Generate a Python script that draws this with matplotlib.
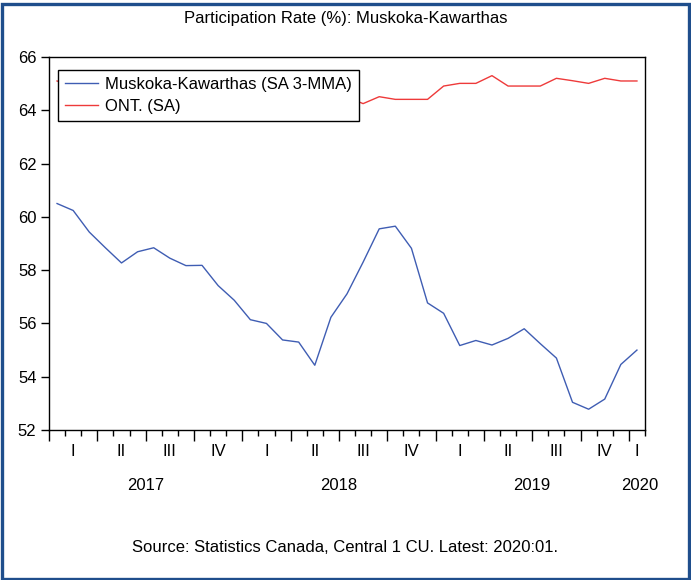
import matplotlib
matplotlib.use("Agg")
import matplotlib.pyplot as plt
from matplotlib.patches import Rectangle
from matplotlib.transforms import blended_transform_factory
import numpy as np

plt.rcParams['font.family'] = ['Liberation Sans', 'DejaVu Sans']

# Monthly data Jan 2017 .. Jan 2020
months = [f"{y}-{m:02d}" for y in (2017, 2018, 2019) for m in range(1, 13)] + ["2020-01"]

muskoka = [60.50, 60.24, 59.43, 58.84, 58.27, 58.69, 58.84, 58.45, 58.17, 58.18, 57.42, 56.87,
           56.14, 56.00, 55.38, 55.30, 54.43, 56.23, 57.11, 58.30, 59.55, 59.65, 58.82, 56.77,
           56.38, 55.17, 55.36, 55.19, 55.44, 55.80, 55.24, 54.70, 53.04, 52.78, 53.16, 54.46,
           55.00]

ontario = [65.10, 64.90, 64.80, 64.70, 64.60, 64.70, 64.60, 64.60, 64.70, 64.50, 64.70, 64.60,
           64.30, 64.40, 64.50, 64.40, 64.40, 64.50, 64.50, 64.25, 64.51, 64.41, 64.41, 64.41,
           64.91, 65.01, 65.01, 65.30, 64.91, 64.91, 64.91, 65.20, 65.11, 65.01, 65.20, 65.10,
           65.10]

quarter_labels = ["I", "II", "III", "IV"] * 3 + ["I"]
year_labels = ["2017", "2018", "2019", "2020"]

title = "Participation Rate (%): Muskoka-Kawarthas"
source = "Source: Statistics Canada, Central 1 CU. Latest: 2020:01."
series_names = ["Muskoka-Kawarthas (SA 3-MMA)", "ONT. (SA)"]

FS = 12
W, H = 691, 580
fig = plt.figure(figsize=(W / 100, H / 100), dpi=100)

# outer blue frame
fig.patches.append(Rectangle((1.5 / W, 1.5 / H), (W - 3.5) / W, (H - 5.5) / H,
                             transform=fig.transFigure, fill=False,
                             edgecolor='#1F4E8C', linewidth=2.4))

ax = fig.add_axes([49 / W, (H - 430) / H, (645 - 49) / W, (430 - 57) / H])

x = np.arange(len(months))
l1, = ax.plot(x, muskoka, color='#3F5DB3', linewidth=1.0)
l2, = ax.plot(x, ontario, color='#EE3A3A', linewidth=1.0)

ax.set_xlim(-0.5, len(months) - 0.5)
ax.set_ylim(52, 66)
ax.set_yticks(np.arange(52, 67, 2))
ax.tick_params(axis='y', direction='out', length=6, width=1.0, labelsize=FS, pad=3)

major = np.arange(-0.5, len(months) - 0.5, 3)
minor = np.arange(-0.5, len(months) + 0.5, 1)
ax.set_xticks(major)
ax.set_xticks(minor, minor=True)
ax.set_xticklabels([])
ax.tick_params(axis='x', which='major', direction='out', length=8, width=1.0)
ax.tick_params(axis='x', which='minor', direction='out', length=4, width=1.0)

for s in ax.spines.values():
    s.set_linewidth(1.0)
    s.set_color('black')

trans = blended_transform_factory(ax.transData, ax.transAxes)
ax_h = 430 - 57
# quarter labels
q_centers = [3 * k + 1 for k in range(12)] + [len(months) - 1]
for xc, lab in zip(q_centers, quarter_labels):
    ax.text(xc, -(452 - 430) / ax_h, lab, transform=trans, ha='center', va='center', fontsize=FS)
# year labels
y_centers = [5.5, 17.5, 29.5, len(months) - 1 + 0.2]
for xc, lab in zip(y_centers, year_labels):
    ax.text(xc, -(485.5 - 430) / ax_h, lab, transform=trans, ha='center', va='center', fontsize=FS)

leg = ax.legend([l1, l2], series_names, loc='upper left', bbox_to_anchor=(9.3 / 596, 1 - 13 / ax_h),
                fontsize=FS, frameon=True, fancybox=False, framealpha=1, edgecolor='black',
                borderpad=0.4, handlelength=2.0, handletextpad=0.4, labelspacing=0.45,
                borderaxespad=0)
leg.get_frame().set_linewidth(1.0)

fig.text(0.5, 1 - 18.5 / H, title, ha='center', va='center', fontsize=FS)
fig.text(0.5, 1 - 548 / H, source, ha='center', va='center', fontsize=FS)

fig.savefig("out.png", dpi=100)
